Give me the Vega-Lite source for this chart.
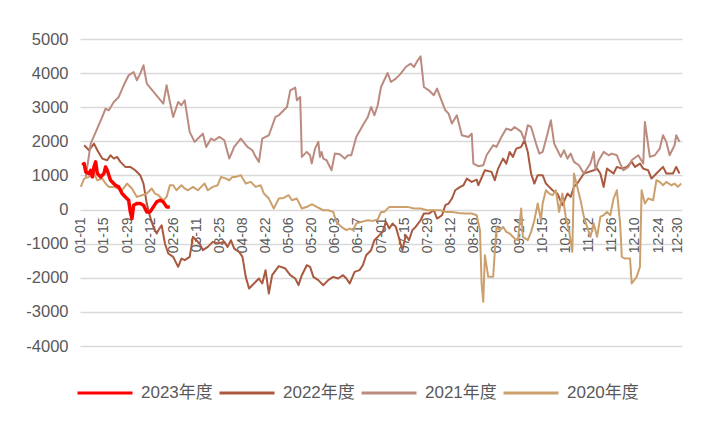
{
  "$schema": "https://vega.github.io/schema/vega-lite/v6.json",
  "width": 602,
  "height": 307,
  "autosize": "none",
  "padding": {"left": 80, "top": 39, "right": 23, "bottom": 75},
  "background": "white",
  "config": {
    "view": {"stroke": null},
    "font": "Liberation Sans"
  },
  "data": {
    "values": [
      {"s":"2022年度","i":2,"v":1885},{"s":"2022年度","i":5,"v":1738},{"s":"2022年度","i":8,"v":1934},{"s":"2022年度","i":10,"v":1738},{"s":"2022年度","i":13,"v":1494},{"s":"2022年度","i":16,"v":1445},{"s":"2022年度","i":18,"v":1592},{"s":"2022年度","i":20,"v":1494},{"s":"2022年度","i":22,"v":1543},{"s":"2022年度","i":24,"v":1397},{"s":"2022年度","i":27,"v":1250},{"s":"2022年度","i":30,"v":1250},{"s":"2022年度","i":33,"v":1152},{"s":"2022年度","i":36,"v":1006},{"s":"2022年度","i":38,"v":762},{"s":"2022年度","i":40,"v":176},{"s":"2022年度","i":42,"v":-215},{"s":"2022年度","i":44,"v":-508},{"s":"2022年度","i":46,"v":-703},{"s":"2022年度","i":47,"v":-605},{"s":"2022年度","i":49,"v":-459},{"s":"2022年度","i":51,"v":-996},{"s":"2022年度","i":53,"v":-1289},{"s":"2022年度","i":56,"v":-1387},{"s":"2022年度","i":59,"v":-1680},{"s":"2022年度","i":61,"v":-1436},{"s":"2022年度","i":63,"v":-1484},{"s":"2022年度","i":66,"v":-1387},{"s":"2022年度","i":68,"v":-801},{"s":"2022年度","i":70,"v":-898},{"s":"2022年度","i":72,"v":-996},{"s":"2022年度","i":74,"v":-1191},{"s":"2022年度","i":77,"v":-1094},{"s":"2022年度","i":80,"v":-947},{"s":"2022年度","i":83,"v":-996},{"s":"2022年度","i":87,"v":-947},{"s":"2022年度","i":89,"v":-1094},{"s":"2022年度","i":91,"v":-898},{"s":"2022年度","i":93,"v":-1143},{"s":"2022年度","i":96,"v":-1240},{"s":"2022年度","i":98,"v":-1387},{"s":"2022年度","i":100,"v":-1973},{"s":"2022年度","i":102,"v":-2315},{"s":"2022年度","i":105,"v":-2168},{"s":"2022年度","i":108,"v":-2022},{"s":"2022年度","i":110,"v":-2168},{"s":"2022年度","i":112,"v":-1777},{"s":"2022年度","i":114,"v":-2461},{"s":"2022年度","i":116,"v":-1924},{"s":"2022年度","i":120,"v":-1660},{"s":"2022年度","i":124,"v":-1729},{"s":"2022年度","i":127,"v":-1924},{"s":"2022年度","i":130,"v":-2022},{"s":"2022年度","i":132,"v":-2217},{"s":"2022年度","i":134,"v":-1924},{"s":"2022年度","i":137,"v":-1631},{"s":"2022年度","i":139,"v":-1680},{"s":"2022年度","i":141,"v":-1973},{"s":"2022年度","i":144,"v":-2070},{"s":"2022年度","i":147,"v":-2217},{"s":"2022年度","i":150,"v":-2070},{"s":"2022年度","i":153,"v":-1973},{"s":"2022年度","i":156,"v":-2022},{"s":"2022年度","i":159,"v":-1924},{"s":"2022年度","i":161,"v":-2022},{"s":"2022年度","i":163,"v":-2168},{"s":"2022年度","i":166,"v":-1826},{"s":"2022年度","i":169,"v":-1777},{"s":"2022年度","i":171,"v":-1631},{"s":"2022年度","i":173,"v":-1338},{"s":"2022年度","i":176,"v":-1191},{"s":"2022年度","i":178,"v":-898},{"s":"2022年度","i":180,"v":-801},{"s":"2022年度","i":183,"v":-654},{"s":"2022年度","i":185,"v":-361},{"s":"2022年度","i":187,"v":-557},{"s":"2022年度","i":189,"v":-410},{"s":"2022年度","i":191,"v":-508},{"s":"2022年度","i":193,"v":-850},{"s":"2022年度","i":195,"v":-1191},{"s":"2022年度","i":197,"v":-752},{"s":"2022年度","i":199,"v":-898},{"s":"2022年度","i":201,"v":-605},{"s":"2022年度","i":203,"v":-508},{"s":"2022年度","i":206,"v":-313},{"s":"2022年度","i":208,"v":-117},{"s":"2022年度","i":211,"v":-117},{"s":"2022年度","i":214,"v":-20},{"s":"2022年度","i":216,"v":-264},{"s":"2022年度","i":219,"v":-166},{"s":"2022年度","i":221,"v":127},{"s":"2022年度","i":223,"v":176},{"s":"2022年度","i":225,"v":322},{"s":"2022年度","i":227,"v":566},{"s":"2022年度","i":230,"v":664},{"s":"2022年度","i":232,"v":713},{"s":"2022年度","i":234,"v":908},{"s":"2022年度","i":237,"v":811},{"s":"2022年度","i":240,"v":879},{"s":"2022年度","i":241,"v":713},{"s":"2022年度","i":245,"v":1152},{"s":"2022年度","i":249,"v":1104},{"s":"2022年度","i":251,"v":859},{"s":"2022年度","i":253,"v":1201},{"s":"2022年度","i":256,"v":1494},{"s":"2022年度","i":258,"v":1348},{"s":"2022年度","i":260,"v":1690},{"s":"2022年度","i":262,"v":1543},{"s":"2022年度","i":264,"v":1787},{"s":"2022年度","i":267,"v":1836},{"s":"2022年度","i":269,"v":2031},{"s":"2022年度","i":271,"v":1690},{"s":"2022年度","i":273,"v":1055},{"s":"2022年度","i":275,"v":762},{"s":"2022年度","i":277,"v":1006},{"s":"2022年度","i":280,"v":1006},{"s":"2022年度","i":282,"v":762},{"s":"2022年度","i":284,"v":664},{"s":"2022年度","i":286,"v":566},{"s":"2022年度","i":289,"v":469},{"s":"2022年度","i":292,"v":127},{"s":"2022年度","i":295,"v":469},{"s":"2022年度","i":297,"v":371},{"s":"2022年度","i":299,"v":664},{"s":"2022年度","i":301,"v":762},{"s":"2022年度","i":305,"v":1055},{"s":"2022年度","i":308,"v":1104},{"s":"2022年度","i":311,"v":1152},{"s":"2022年度","i":313,"v":1201},{"s":"2022年度","i":315,"v":1055},{"s":"2022年度","i":317,"v":664},{"s":"2022年度","i":319,"v":1201},{"s":"2022年度","i":323,"v":1055},{"s":"2022年度","i":325,"v":1250},{"s":"2022年度","i":328,"v":1201},{"s":"2022年度","i":331,"v":1250},{"s":"2022年度","i":334,"v":1397},{"s":"2022年度","i":336,"v":1250},{"s":"2022年度","i":339,"v":1348},{"s":"2022年度","i":341,"v":1201},{"s":"2022年度","i":344,"v":1152},{"s":"2022年度","i":346,"v":908},{"s":"2022年度","i":349,"v":1055},{"s":"2022年度","i":353,"v":1250},{"s":"2022年度","i":355,"v":1055},{"s":"2022年度","i":359,"v":1055},{"s":"2022年度","i":361,"v":1250},{"s":"2022年度","i":363,"v":1055},
      {"s":"2021年度","i":3,"v":957},{"s":"2021年度","i":6,"v":1934},{"s":"2021年度","i":13,"v":2715},{"s":"2021年度","i":15,"v":2959},{"s":"2021年度","i":17,"v":2910},{"s":"2021年度","i":20,"v":3154},{"s":"2021年度","i":23,"v":3301},{"s":"2021年度","i":26,"v":3643},{"s":"2021年度","i":29,"v":3936},{"s":"2021年度","i":32,"v":4033},{"s":"2021年度","i":34,"v":3789},{"s":"2021年度","i":36,"v":3984},{"s":"2021年度","i":38,"v":4229},{"s":"2021年度","i":40,"v":3692},{"s":"2021年度","i":45,"v":3399},{"s":"2021年度","i":50,"v":3106},{"s":"2021年度","i":52,"v":3643},{"s":"2021年度","i":54,"v":3154},{"s":"2021年度","i":56,"v":2715},{"s":"2021年度","i":59,"v":3154},{"s":"2021年度","i":61,"v":3057},{"s":"2021年度","i":63,"v":3203},{"s":"2021年度","i":66,"v":2276},{"s":"2021年度","i":69,"v":1983},{"s":"2021年度","i":72,"v":2129},{"s":"2021年度","i":74,"v":2227},{"s":"2021年度","i":76,"v":1836},{"s":"2021年度","i":79,"v":2080},{"s":"2021年度","i":81,"v":2031},{"s":"2021年度","i":84,"v":2129},{"s":"2021年度","i":87,"v":2031},{"s":"2021年度","i":90,"v":1494},{"s":"2021年度","i":93,"v":1836},{"s":"2021年度","i":97,"v":2080},{"s":"2021年度","i":101,"v":1836},{"s":"2021年度","i":104,"v":1738},{"s":"2021年度","i":106,"v":1543},{"s":"2021年度","i":108,"v":1397},{"s":"2021年度","i":110,"v":2080},{"s":"2021年度","i":112,"v":2129},{"s":"2021年度","i":114,"v":2178},{"s":"2021年度","i":118,"v":2715},{"s":"2021年度","i":120,"v":2764},{"s":"2021年度","i":125,"v":3008},{"s":"2021年度","i":127,"v":3496},{"s":"2021年度","i":130,"v":3574},{"s":"2021年度","i":131,"v":3203},{"s":"2021年度","i":133,"v":3301},{"s":"2021年度","i":134,"v":1543},{"s":"2021年度","i":137,"v":1690},{"s":"2021年度","i":139,"v":1592},{"s":"2021年度","i":140,"v":1348},{"s":"2021年度","i":142,"v":1787},{"s":"2021年度","i":144,"v":1983},{"s":"2021年度","i":145,"v":1543},{"s":"2021年度","i":146,"v":1690},{"s":"2021年度","i":147,"v":1494},{"s":"2021年度","i":149,"v":1445},{"s":"2021年度","i":152,"v":1152},{"s":"2021年度","i":154,"v":1641},{"s":"2021年度","i":157,"v":1621},{"s":"2021年度","i":160,"v":1494},{"s":"2021年度","i":162,"v":1592},{"s":"2021年度","i":164,"v":1592},{"s":"2021年度","i":167,"v":2129},{"s":"2021年度","i":171,"v":2471},{"s":"2021年度","i":174,"v":2715},{"s":"2021年度","i":176,"v":3008},{"s":"2021年度","i":178,"v":2764},{"s":"2021年度","i":180,"v":3057},{"s":"2021年度","i":182,"v":3594},{"s":"2021年度","i":186,"v":4004},{"s":"2021年度","i":188,"v":3740},{"s":"2021年度","i":191,"v":3838},{"s":"2021年度","i":194,"v":3984},{"s":"2021年度","i":197,"v":4180},{"s":"2021年度","i":200,"v":4277},{"s":"2021年度","i":202,"v":4180},{"s":"2021年度","i":204,"v":4356},{"s":"2021年度","i":206,"v":4492},{"s":"2021年度","i":208,"v":3594},{"s":"2021年度","i":211,"v":3496},{"s":"2021年度","i":214,"v":3350},{"s":"2021年度","i":216,"v":3545},{"s":"2021年度","i":219,"v":3154},{"s":"2021年度","i":221,"v":2910},{"s":"2021年度","i":223,"v":2813},{"s":"2021年度","i":225,"v":2520},{"s":"2021年度","i":228,"v":2764},{"s":"2021年度","i":231,"v":2178},{"s":"2021年度","i":235,"v":2129},{"s":"2021年度","i":237,"v":2227},{"s":"2021年度","i":238,"v":1348},{"s":"2021年度","i":241,"v":1270},{"s":"2021年度","i":244,"v":1299},{"s":"2021年度","i":246,"v":1592},{"s":"2021年度","i":250,"v":1885},{"s":"2021年度","i":252,"v":1836},{"s":"2021年度","i":255,"v":2129},{"s":"2021年度","i":258,"v":2373},{"s":"2021年度","i":261,"v":2324},{"s":"2021年度","i":263,"v":2422},{"s":"2021年度","i":267,"v":2276},{"s":"2021年度","i":269,"v":2031},{"s":"2021年度","i":271,"v":2471},{"s":"2021年度","i":273,"v":2422},{"s":"2021年度","i":276,"v":1934},{"s":"2021年度","i":278,"v":1641},{"s":"2021年度","i":280,"v":1690},{"s":"2021年度","i":283,"v":2227},{"s":"2021年度","i":285,"v":2617},{"s":"2021年度","i":287,"v":1934},{"s":"2021年度","i":289,"v":1738},{"s":"2021年度","i":291,"v":1543},{"s":"2021年度","i":293,"v":1738},{"s":"2021年度","i":295,"v":1494},{"s":"2021年度","i":297,"v":1641},{"s":"2021年度","i":299,"v":1397},{"s":"2021年度","i":302,"v":1299},{"s":"2021年度","i":305,"v":1055},{"s":"2021年度","i":309,"v":1348},{"s":"2021年度","i":311,"v":1690},{"s":"2021年度","i":312,"v":1152},{"s":"2021年度","i":314,"v":1445},{"s":"2021年度","i":317,"v":1690},{"s":"2021年度","i":320,"v":1592},{"s":"2021年度","i":322,"v":1641},{"s":"2021年度","i":325,"v":1592},{"s":"2021年度","i":327,"v":1348},{"s":"2021年度","i":329,"v":1152},{"s":"2021年度","i":332,"v":1250},{"s":"2021年度","i":334,"v":1445},{"s":"2021年度","i":338,"v":1592},{"s":"2021年度","i":341,"v":1348},{"s":"2021年度","i":342,"v":2568},{"s":"2021年度","i":345,"v":1543},{"s":"2021年度","i":348,"v":1592},{"s":"2021年度","i":351,"v":1787},{"s":"2021年度","i":353,"v":2178},{"s":"2021年度","i":355,"v":1983},{"s":"2021年度","i":357,"v":1592},{"s":"2021年度","i":360,"v":1885},{"s":"2021年度","i":361,"v":2178},{"s":"2021年度","i":363,"v":1983},
      {"s":"2020年度","i":0,"v":664},{"s":"2020年度","i":2,"v":908},{"s":"2020年度","i":5,"v":957},{"s":"2020年度","i":8,"v":1055},{"s":"2020年度","i":10,"v":859},{"s":"2020年度","i":13,"v":908},{"s":"2020年度","i":15,"v":762},{"s":"2020年度","i":17,"v":664},{"s":"2020年度","i":20,"v":664},{"s":"2020年度","i":25,"v":566},{"s":"2020年度","i":28,"v":762},{"s":"2020年度","i":31,"v":615},{"s":"2020年度","i":34,"v":371},{"s":"2020年度","i":37,"v":420},{"s":"2020年度","i":40,"v":469},{"s":"2020年度","i":43,"v":615},{"s":"2020年度","i":45,"v":469},{"s":"2020年度","i":47,"v":420},{"s":"2020年度","i":50,"v":273},{"s":"2020年度","i":52,"v":371},{"s":"2020年度","i":54,"v":713},{"s":"2020年度","i":56,"v":713},{"s":"2020年度","i":58,"v":566},{"s":"2020年度","i":61,"v":713},{"s":"2020年度","i":63,"v":615},{"s":"2020年度","i":65,"v":566},{"s":"2020年度","i":68,"v":664},{"s":"2020年度","i":71,"v":566},{"s":"2020年度","i":73,"v":664},{"s":"2020年度","i":75,"v":762},{"s":"2020年度","i":77,"v":566},{"s":"2020年度","i":80,"v":664},{"s":"2020年度","i":83,"v":713},{"s":"2020年度","i":85,"v":957},{"s":"2020年度","i":88,"v":908},{"s":"2020年度","i":90,"v":859},{"s":"2020年度","i":92,"v":957},{"s":"2020年度","i":94,"v":957},{"s":"2020年度","i":97,"v":1006},{"s":"2020年度","i":100,"v":762},{"s":"2020年度","i":103,"v":811},{"s":"2020年度","i":106,"v":664},{"s":"2020年度","i":109,"v":713},{"s":"2020年度","i":111,"v":469},{"s":"2020年度","i":114,"v":322},{"s":"2020年度","i":117,"v":29},{"s":"2020年度","i":120,"v":322},{"s":"2020年度","i":123,"v":342},{"s":"2020年度","i":126,"v":420},{"s":"2020年度","i":128,"v":273},{"s":"2020年度","i":131,"v":322},{"s":"2020年度","i":134,"v":29},{"s":"2020年度","i":138,"v":98},{"s":"2020年度","i":140,"v":156},{"s":"2020年度","i":143,"v":78},{"s":"2020年度","i":147,"v":-20},{"s":"2020年度","i":150,"v":-20},{"s":"2020年度","i":153,"v":-68},{"s":"2020年度","i":155,"v":-361},{"s":"2020年度","i":158,"v":-508},{"s":"2020年度","i":161,"v":-605},{"s":"2020年度","i":163,"v":-557},{"s":"2020年度","i":165,"v":-605},{"s":"2020年度","i":167,"v":-410},{"s":"2020年度","i":170,"v":-361},{"s":"2020年度","i":174,"v":-313},{"s":"2020年度","i":177,"v":-332},{"s":"2020年度","i":180,"v":-293},{"s":"2020年度","i":182,"v":-68},{"s":"2020年度","i":184,"v":-68},{"s":"2020年度","i":187,"v":78},{"s":"2020年度","i":190,"v":78},{"s":"2020年度","i":194,"v":78},{"s":"2020年度","i":198,"v":78},{"s":"2020年度","i":202,"v":29},{"s":"2020年度","i":206,"v":29},{"s":"2020年度","i":210,"v":-20},{"s":"2020年度","i":214,"v":-20},{"s":"2020年度","i":218,"v":-20},{"s":"2020年度","i":221,"v":-68},{"s":"2020年度","i":225,"v":-68},{"s":"2020年度","i":229,"v":-98},{"s":"2020年度","i":233,"v":-117},{"s":"2020年度","i":237,"v":-117},{"s":"2020年度","i":240,"v":-166},{"s":"2020年度","i":242,"v":-605},{"s":"2020年度","i":243,"v":-2168},{"s":"2020年度","i":244,"v":-2705},{"s":"2020年度","i":245,"v":-1338},{"s":"2020年度","i":247,"v":-1973},{"s":"2020年度","i":250,"v":-1973},{"s":"2020年度","i":252,"v":-508},{"s":"2020年度","i":254,"v":-605},{"s":"2020年度","i":256,"v":-508},{"s":"2020年度","i":258,"v":-654},{"s":"2020年度","i":260,"v":-703},{"s":"2020年度","i":263,"v":-850},{"s":"2020年度","i":265,"v":-898},{"s":"2020年度","i":267,"v":29},{"s":"2020年度","i":268,"v":-801},{"s":"2020年度","i":271,"v":-898},{"s":"2020年度","i":273,"v":-654},{"s":"2020年度","i":275,"v":-313},{"s":"2020年度","i":277,"v":176},{"s":"2020年度","i":279,"v":-313},{"s":"2020年度","i":280,"v":176},{"s":"2020年度","i":282,"v":566},{"s":"2020年度","i":284,"v":469},{"s":"2020年度","i":286,"v":420},{"s":"2020年度","i":288,"v":566},{"s":"2020年度","i":290,"v":-68},{"s":"2020年度","i":292,"v":469},{"s":"2020年度","i":294,"v":-215},{"s":"2020年度","i":296,"v":-605},{"s":"2020年度","i":298,"v":-1240},{"s":"2020年度","i":299,"v":1055},{"s":"2020年度","i":301,"v":664},{"s":"2020年度","i":303,"v":273},{"s":"2020年度","i":305,"v":-215},{"s":"2020年度","i":309,"v":-801},{"s":"2020年度","i":311,"v":-410},{"s":"2020年度","i":313,"v":-801},{"s":"2020年度","i":315,"v":-215},{"s":"2020年度","i":317,"v":-166},{"s":"2020年度","i":319,"v":-68},{"s":"2020年度","i":321,"v":-166},{"s":"2020年度","i":323,"v":322},{"s":"2020年度","i":325,"v":566},{"s":"2020年度","i":327,"v":-410},{"s":"2020年度","i":328,"v":-1387},{"s":"2020年度","i":330,"v":-1436},{"s":"2020年度","i":333,"v":-1436},{"s":"2020年度","i":334,"v":-2168},{"s":"2020年度","i":337,"v":-1973},{"s":"2020年度","i":339,"v":-1680},{"s":"2020年度","i":340,"v":566},{"s":"2020年度","i":342,"v":176},{"s":"2020年度","i":344,"v":322},{"s":"2020年度","i":347,"v":273},{"s":"2020年度","i":349,"v":859},{"s":"2020年度","i":351,"v":811},{"s":"2020年度","i":353,"v":713},{"s":"2020年度","i":355,"v":811},{"s":"2020年度","i":358,"v":713},{"s":"2020年度","i":360,"v":762},{"s":"2020年度","i":362,"v":664},{"s":"2020年度","i":364,"v":762},
      {"s":"2023年度","i":1,"v":1299},{"s":"2023年度","i":2,"v":1348},{"s":"2023年度","i":3,"v":1104},{"s":"2023年度","i":5,"v":1055},{"s":"2023年度","i":6,"v":1152},{"s":"2023年度","i":7,"v":957},{"s":"2023年度","i":8,"v":1250},{"s":"2023年度","i":9,"v":1397},{"s":"2023年度","i":10,"v":1055},{"s":"2023年度","i":12,"v":957},{"s":"2023年度","i":14,"v":1055},{"s":"2023年度","i":15,"v":1250},{"s":"2023年度","i":16,"v":1152},{"s":"2023年度","i":18,"v":859},{"s":"2023年度","i":21,"v":713},{"s":"2023年度","i":23,"v":664},{"s":"2023年度","i":25,"v":469},{"s":"2023年度","i":27,"v":371},{"s":"2023年度","i":29,"v":273},{"s":"2023年度","i":30,"v":-68},{"s":"2023年度","i":31,"v":-264},{"s":"2023年度","i":32,"v":127},{"s":"2023年度","i":34,"v":176},{"s":"2023年度","i":36,"v":176},{"s":"2023年度","i":38,"v":127},{"s":"2023年度","i":40,"v":-68},{"s":"2023年度","i":42,"v":-68},{"s":"2023年度","i":44,"v":78},{"s":"2023年度","i":46,"v":225},{"s":"2023年度","i":48,"v":273},{"s":"2023年度","i":50,"v":225},{"s":"2023年度","i":52,"v":78},{"s":"2023年度","i":54,"v":78}
    ]
  },
  "encoding": {
    "x": {
      "field": "i",
      "type": "quantitative",
      "scale": {"domain": [-0.5, 364.5], "nice": false, "zero": false},
      "axis": {
        "title": null,
        "orient": "bottom",
        "offset": -137,
        "values": [0,14,28,42,56,70,84,98,112,126,140,154,168,182,196,210,224,238,252,266,280,294,308,322,336,350,362],
        "labelExpr": "['01-01','01-15','01-29','02-12','02-26','03-11','03-25','04-08','04-22','05-06','05-20','06-03','06-17','07-01','07-15','07-29','08-12','08-26','09-09','09-24','10-15','10-29','11-12','11-26','12-10','12-24','12-30'][round(datum.value/14)]",
        "labelAngle": -90,
        "labelAlign": "right",
        "labelBaseline": "middle",
        "labelFontSize": 14,
        "labelColor": "#595959",
        "labelPadding": 8,
        "labelFlush": false,
        "labelOverlap": false,
        "labelBound": false,
        "ticks": false,
        "domain": false,
        "grid": false
      }
    },
    "y": {
      "field": "v",
      "type": "quantitative",
      "scale": {"domain": [-4000, 5000], "nice": false, "zero": false},
      "axis": {
        "title": null,
        "values": [-4000,-3000,-2000,-1000,0,1000,2000,3000,4000,5000],
        "labelExpr": "'' + datum.value",
        "labelFontSize": 16.5,
        "labelColor": "#595959",
        "labelPadding": 12,
        "ticks": false,
        "domain": false,
        "grid": true,
        "gridColor": "#D9D9D9",
        "gridWidth": 1.5
      }
    },
    "color": {
      "field": "s",
      "type": "nominal",
      "scale": {
        "domain": ["2023年度", "2022年度", "2021年度", "2020年度"],
        "range": ["#FF0000", "#A9593F", "#BC8B80", "#CCA06D"]
      },
      "legend": {
        "title": null,
        "orient": "none",
        "direction": "horizontal",
        "legendX": -4,
        "legendY": 325,
        "padding": 0,
        "symbolType": "stroke",
        "symbolSize": 3025,
        "symbolStrokeWidth": 3,
        "labelFontSize": 17,
        "labelFont": "Liberation Sans, Noto Sans CJK SC",
        "labelColor": "#595959",
        "labelOffset": 7,
        "columnPadding": 0
      }
    }
  },
  "layer": [
    {
      "transform": [{"filter": "datum.s != '2023年度'"}],
      "mark": {"type": "line", "strokeWidth": 2, "strokeJoin": "round"}
    },
    {
      "transform": [{"filter": "datum.s == '2023年度'"}],
      "mark": {"type": "line", "strokeWidth": 3.5, "strokeJoin": "round"}
    }
  ]
}
